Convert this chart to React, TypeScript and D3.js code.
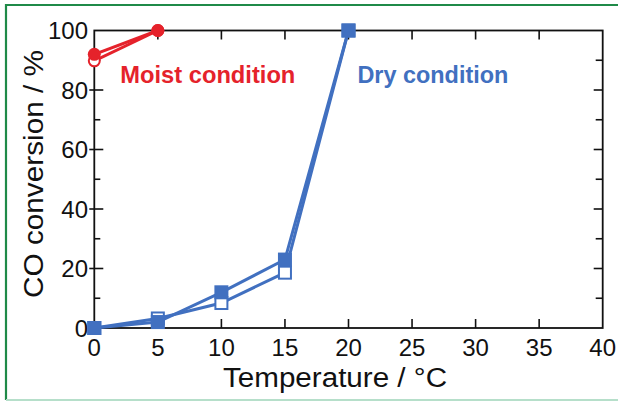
import React, { useRef, useEffect } from "react";
import * as d3 from "d3";

// temperatures (°C)
const dryTemps = [0, 5, 10, 15, 20];
const moistTemps = [0, 5];
// CO conversion (%)
const dryFilled = [0, 2, 12, 23, 100];
const dryOpen = [0, 3.2, 8.4, 18.6, 100];
const moistFilled = [92, 100];
const moistOpen = [89.8, 100];

const xTicks = [0, 5, 10, 15, 20, 25, 30, 35, 40];
const yTicks = [0, 20, 40, 60, 80, 100];
const yMinorTicks = [10, 30, 50, 70, 90];

const RED = "#e5222b";
const BLUE = "#4170c0";

const App = () => {
  const svgRef = useRef<SVGSVGElement>(null);

  useEffect(() => {
    const W = 618;
    const H = 401;
    const svg = d3.select(svgRef.current);
    svg.selectAll("*").remove();

    const x = d3.scaleLinear().domain([0, 40]).range([94.3, 602.7]);
    const y = d3.scaleLinear().domain([0, 100]).range([328, 30.5]);
    const font = "Liberation Sans, Arial, Helvetica, sans-serif";

    svg.append("rect").attr("width", W).attr("height", H).attr("fill", "#fff");

    // outer green frame
    svg.append("line").attr("x1", 5).attr("x2", W).attr("y1", 5).attr("y2", 5)
      .attr("stroke", "#1f8a48").attr("stroke-width", 2.2);
    svg.append("line").attr("x1", 6).attr("x2", 6).attr("y1", 4).attr("y2", 400)
      .attr("stroke", "#1f8a48").attr("stroke-width", 2.2);
    svg.append("line").attr("x1", 6).attr("x2", W).attr("y1", 400).attr("y2", 400)
      .attr("stroke", "#b6dfca").attr("stroke-width", 2);

    const g = svg.append("g");

    // plot box
    g.append("rect")
      .attr("x", x(0)).attr("y", y(100))
      .attr("width", x(40) - x(0)).attr("height", y(0) - y(100))
      .attr("fill", "none").attr("stroke", "#111").attr("stroke-width", 1.8);

    // x ticks (inward, top and bottom)
    xTicks.slice(1, -1).forEach((t) => {
      g.append("line").attr("x1", x(t)).attr("x2", x(t)).attr("y1", y(0)).attr("y2", y(0) - 9)
        .attr("stroke", "#111").attr("stroke-width", 1.6);
      g.append("line").attr("x1", x(t)).attr("x2", x(t)).attr("y1", y(100)).attr("y2", y(100) + 9)
        .attr("stroke", "#111").attr("stroke-width", 1.6);
    });
    // y ticks
    yTicks.slice(1, -1).forEach((t) => {
      g.append("line").attr("x1", x(0) - 5).attr("x2", x(0) + 9).attr("y1", y(t)).attr("y2", y(t))
        .attr("stroke", "#111").attr("stroke-width", 1.6);
      g.append("line").attr("x1", x(40)).attr("x2", x(40) - 9).attr("y1", y(t)).attr("y2", y(t))
        .attr("stroke", "#111").attr("stroke-width", 1.6);
    });
    yMinorTicks.forEach((t) => {
      g.append("line").attr("x1", x(0)).attr("x2", x(0) + 6).attr("y1", y(t)).attr("y2", y(t))
        .attr("stroke", "#111").attr("stroke-width", 1.6);
      g.append("line").attr("x1", x(40)).attr("x2", x(40) - 7).attr("y1", y(t)).attr("y2", y(t))
        .attr("stroke", "#111").attr("stroke-width", 1.6);
    });

    // tick labels
    g.selectAll(".xl").data(xTicks).enter().append("text")
      .attr("x", (d) => x(d)).attr("y", 356)
      .attr("text-anchor", "middle").attr("font-family", font).attr("font-size", 24)
      .attr("fill", "#111").text((d) => d);
    g.selectAll(".yl").data(yTicks).enter().append("text")
      .attr("x", 88).attr("y", (d) => y(d) + 8.6)
      .attr("text-anchor", "end").attr("font-family", font).attr("font-size", 24)
      .attr("fill", "#111").text((d) => d);

    // axis titles
    g.append("text")
      .attr("x", 335).attr("y", 387)
      .attr("text-anchor", "middle").attr("font-family", font).attr("font-size", 27)
      .attr("textLength", 224).attr("lengthAdjust", "spacingAndGlyphs")
      .attr("fill", "#111").text("Temperature / °C");
    g.append("text")
      .attr("transform", "translate(43,174) rotate(-90)")
      .attr("text-anchor", "middle").attr("font-family", font).attr("font-size", 27)
      .attr("textLength", 248).attr("lengthAdjust", "spacingAndGlyphs")
      .attr("fill", "#111").text("CO conversion / %");

    // series
    const line = d3.line<[number, number]>().x((d) => x(d[0])).y((d) => y(d[1]));
    const zip = (xs: number[], ys: number[]) => xs.map((v, i) => [v, ys[i]] as [number, number]);

    const dryO = zip(dryTemps, dryOpen);
    const dryF = zip(dryTemps, dryFilled);
    const moistO = zip(moistTemps, moistOpen);
    const moistF = zip(moistTemps, moistFilled);

    [dryO, dryF].forEach((s) =>
      g.append("path").attr("d", line(s)).attr("fill", "none").attr("stroke", BLUE).attr("stroke-width", 3)
    );
    [moistO, moistF].forEach((s) =>
      g.append("path").attr("d", line(s)).attr("fill", "none").attr("stroke", RED).attr("stroke-width", 3)
    );

    g.selectAll(".dryo").data(dryO).enter().append("rect")
      .attr("x", (d) => x(d[0]) - 6).attr("y", (d) => y(d[1]) - 6)
      .attr("width", 12).attr("height", 12)
      .attr("fill", "#fff").attr("stroke", BLUE).attr("stroke-width", 2);
    g.selectAll(".dryf").data(dryF).enter().append("rect")
      .attr("x", (d) => x(d[0]) - 7).attr("y", (d) => y(d[1]) - 7)
      .attr("width", 14).attr("height", 14)
      .attr("fill", BLUE);

    g.selectAll(".moisto").data(moistO).enter().append("circle")
      .attr("cx", (d) => x(d[0])).attr("cy", (d) => y(d[1])).attr("r", 5.5)
      .attr("fill", "#fff").attr("stroke", RED).attr("stroke-width", 2);
    g.selectAll(".moistf").data(moistF).enter().append("circle")
      .attr("cx", (d) => x(d[0])).attr("cy", (d) => y(d[1])).attr("r", 6.5)
      .attr("fill", RED);

    // annotations
    g.append("text")
      .attr("x", x(2.05)).attr("y", y(82.3))
      .attr("font-family", font).attr("font-weight", "bold").attr("font-size", 23.5)
      .attr("textLength", 175).attr("lengthAdjust", "spacingAndGlyphs")
      .attr("fill", RED).text("Moist condition");
    g.append("text")
      .attr("x", x(20.7)).attr("y", y(82.3))
      .attr("font-family", font).attr("font-weight", "bold").attr("font-size", 23.5)
      .attr("textLength", 151).attr("lengthAdjust", "spacingAndGlyphs")
      .attr("fill", BLUE).text("Dry condition");
  }, []);

  return (
    <svg
      ref={svgRef}
      width={618}
      height={401}
      style={{ position: "absolute", left: 0, top: 0, display: "block" }}
    />
  );
};

export default App;
